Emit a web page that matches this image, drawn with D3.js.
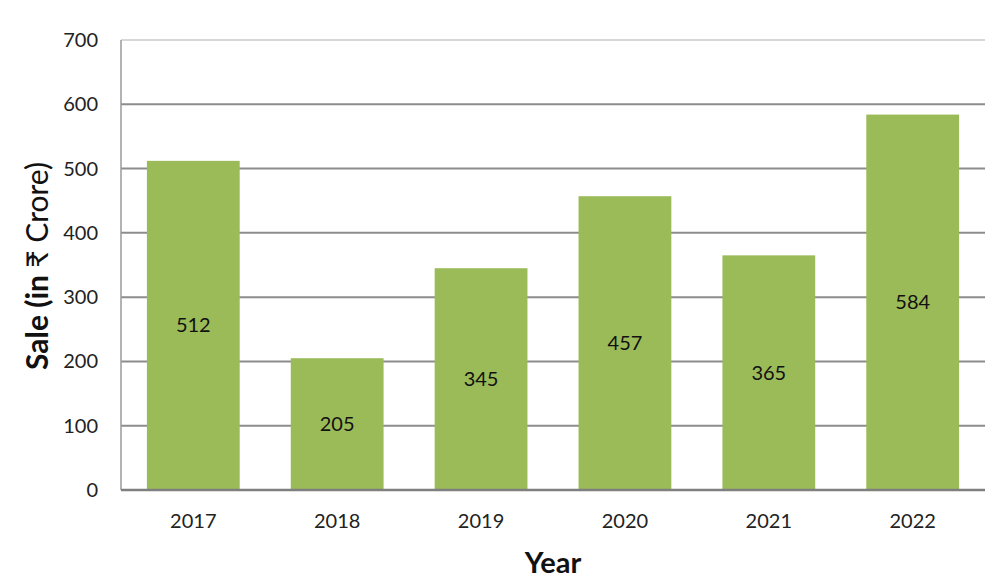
<!DOCTYPE html>
<html><head><meta charset="utf-8">
<script src="https://cdn.jsdelivr.net/npm/d3@7"></script>
<style>body{margin:0;background:#fff;} svg{display:block;font-family:Lato,"Open Sans","DejaVu Sans",sans-serif;}</style>
</head><body>
<svg id="c" width="1005" height="580"></svg>
<script>
const years = ["2017","2018","2019","2020","2021","2022"];
const sales = [512, 205, 345, 457, 365, 584];
const yTicks = [0,100,200,300,400,500,600,700];
const xTitle = "Year";
const yTitleBold = "Sale (in ";
const yTitleNormal = "₹ Crore)";

const svg = d3.select("#c");
const L = 121, R = 985, T = 40, B = 490;
const x = d3.scaleBand().domain(years).range([L, R]).paddingInner(0.355).paddingOuter(0.18);
const y = d3.scaleLinear().domain([0, 700]).range([B, T]);

// gridlines
svg.append("g").selectAll("line").data(yTicks.filter(d => d > 0)).join("line")
  .attr("x1", L).attr("x2", R)
  .attr("y1", d => y(d)).attr("y2", d => y(d))
  .attr("stroke", d => d === 700 ? "#b0b0b0" : "#8c8c8c")
  .attr("stroke-width", d => d === 700 ? 1.2 : 2);

// left axis line
svg.append("line").attr("x1", L).attr("x2", L).attr("y1", T).attr("y2", B)
  .attr("stroke", "#9a9a9a").attr("stroke-width", 1.5);

// bars
svg.append("g").selectAll("rect").data(sales).join("rect")
  .attr("x", (d, i) => x(years[i]))
  .attr("width", x.bandwidth())
  .attr("y", d => y(d))
  .attr("height", d => B - y(d))
  .attr("fill", "#9bbb59");

// baseline
svg.append("line").attr("x1", L).attr("x2", R).attr("y1", B).attr("y2", B)
  .attr("stroke", "#7f7f7f").attr("stroke-width", 2.5);

// value labels
svg.append("g").selectAll("text").data(sales).join("text")
  .attr("x", (d, i) => x(years[i]) + x.bandwidth() / 2)
  .attr("y", d => (y(d) + B) / 2)
  .attr("dy", "0.35em")
  .attr("text-anchor", "middle")
  .attr("font-size", 20).attr("fill", "#111")
  .text(d => d);

// y tick labels
svg.append("g").selectAll("text").data(yTicks).join("text")
  .attr("x", 98).attr("y", d => y(d)).attr("dy", "0.35em")
  .attr("text-anchor", "end").attr("font-size", 20).attr("fill", "#222")
  .text(d => d);

// x tick labels
svg.append("g").selectAll("text").data(years).join("text")
  .attr("x", d => x(d) + x.bandwidth() / 2).attr("y", 521).attr("dy", "0.35em")
  .attr("text-anchor", "middle").attr("font-size", 20).attr("fill", "#222")
  .text(d => d);

// axis titles
svg.append("text").attr("x", (L + R) / 2).attr("y", 563).attr("dy", "0.35em")
  .attr("text-anchor", "middle").attr("font-size", 29).attr("font-weight", "bold").attr("fill", "#111")
  .text(xTitle);
const yt = svg.append("text").attr("transform", "translate(37,266) rotate(-90)").attr("dy", "0.35em")
  .attr("text-anchor", "middle").attr("font-size", 30).attr("fill", "#111");
yt.append("tspan").attr("font-weight", "bold").text(yTitleBold);
yt.append("tspan").attr("font-weight", "normal").text(yTitleNormal);
</script>
</body></html>
